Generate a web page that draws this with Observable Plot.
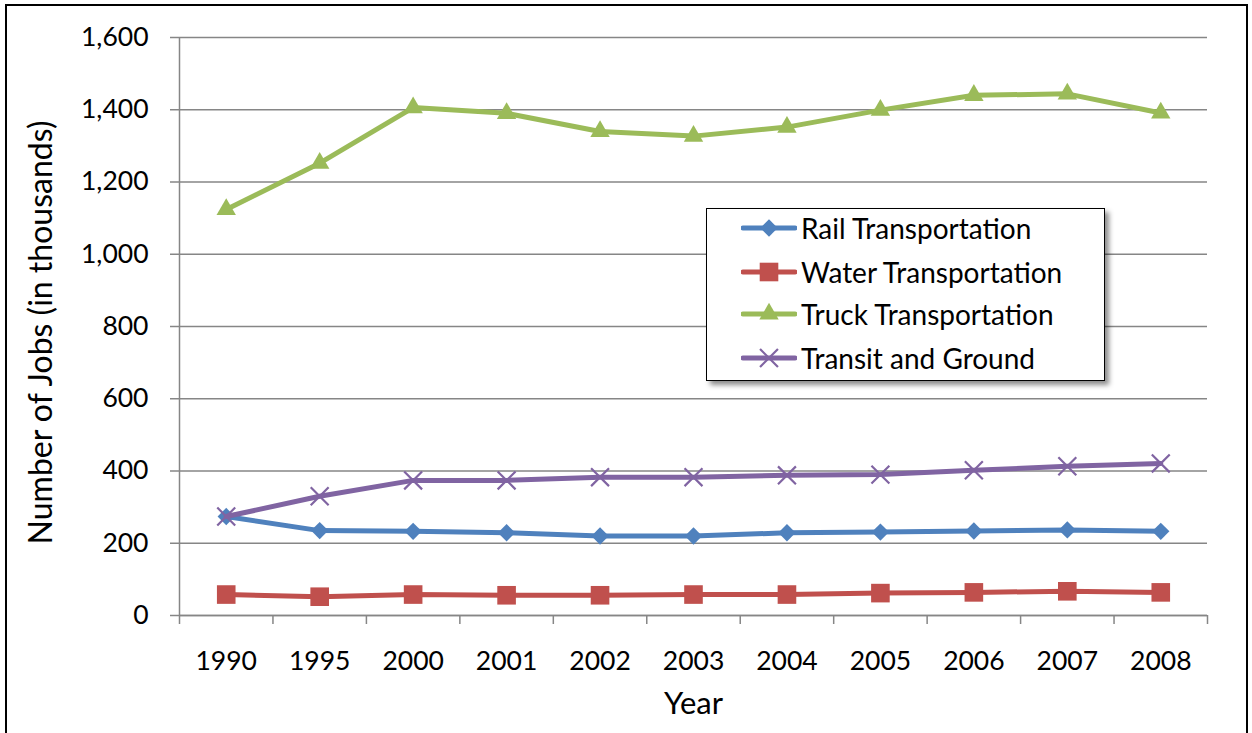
<!DOCTYPE html>
<html><head><meta charset="utf-8">
<script src="https://cdn.jsdelivr.net/npm/d3@7"></script>
<script src="https://cdn.jsdelivr.net/npm/@observablehq/plot@0.6"></script>
<style>
html,body{margin:0;padding:0;background:#fff;}
#wrap{position:relative;width:1252px;height:733px;overflow:hidden;font-family:Lato, "Open Sans", sans-serif;}
#frame{position:absolute;left:5px;top:4px;width:1243px;height:760px;border:2px solid #000;box-sizing:border-box;pointer-events:none}
#legend{position:absolute;left:706px;top:208px;width:399px;height:173px;border:1.5px solid #000;background:#fff;box-shadow:4px 4px 5px rgba(0,0,0,0.45);box-sizing:border-box;}
.row{position:absolute;left:34px;height:30px;display:flex;align-items:center;font-size:28px;color:#000;white-space:nowrap}
.row svg{margin-right:4px}
</style></head>
<body><div id="wrap"><div id="chart"></div><div id="legend"></div><div id="frame"></div></div>
<script>
const years = ["1990","1995","2000","2001","2002","2003","2004","2005","2006","2007","2008"];
const rail = [274,235,233,229,220,220,229,231,234,237,233];
const water = [58,52,58,56,56,58,58,62,64,67,64];
const truck = [1124,1252,1406,1390,1340,1327,1352,1399,1440,1444,1391];
const transit = [274,330,374,374,383,383,388,390,402,413,421];
const seriesNames = ["Rail Transportation","Water Transportation","Truck Transportation","Transit and Ground"];
const seriesColors = ["#4F81BD","#C0504D","#9BBB59","#8064A2"];
const yTicks = [0,200,400,600,800,1000,1200,1400,1600];

const seriesValues = [rail, water, truck, transit];
const symbols = [d3.symbolDiamond2, d3.symbolSquare, d3.symbolTriangle, d3.symbolTimes];
const symbolR = [7.8, 10.5, 7.2, 8.2];
const filled = [true, true, true, false];

const data = [];
seriesNames.forEach((s, k) => seriesValues[k].forEach((v, i) => data.push({series: s, k, i, x: i + 0.5, value: v})));

const gray = "#868686";
const marks = [
  Plot.gridY(yTicks, {stroke: gray, strokeOpacity: 1, strokeWidth: 1.5}),
  Plot.axisY({ticks: yTicks, tickSize: 9, tickFormat: () => "", stroke: gray, strokeWidth: 1.5, label: null}),
  Plot.axisY({ticks: yTicks, tickSize: 0, tickPadding: 31, fontSize: 26.5, fill: "#000", tickFormat: d3.format(","), label: null}),
  Plot.axisX({ticks: d3.range(years.length + 1), tickSize: 9, tickFormat: () => "", stroke: gray, strokeWidth: 1.5, label: null}),
  Plot.axisX({ticks: years.map((_, i) => i + 0.5), tickSize: 0, tickPadding: 36, fontSize: 26.5, fill: "#000", tickFormat: v => years[Math.floor(v)], label: null}),
  Plot.ruleX([0], {stroke: gray, strokeWidth: 1.5}),
  Plot.ruleY([0], {stroke: gray, strokeWidth: 1.5}),
  Plot.text(["Number of Jobs (in thousands)"], {frameAnchor: "left", dx: -138, dy: 6, rotate: -90, fontSize: 32, fill: "#000", textAnchor: "middle", lineAnchor: "middle"}),
  Plot.text(["Year"], {frameAnchor: "bottom", dy: 89, fontSize: 31, fill: "#000", textAnchor: "middle", lineAnchor: "middle"})
];
seriesNames.forEach((s, k) => {
  const d = data.filter(r => r.k === k);
  marks.push(Plot.line(d, {x: "x", y: "value", stroke: seriesColors[k], strokeWidth: 5, strokeLinejoin: "round"}));
  marks.push(Plot.dot(d, {x: "x", y: "value", symbol: () => symbols[k], r: symbolR[k],
    fill: filled[k] ? seriesColors[k] : "none", stroke: seriesColors[k], strokeWidth: filled[k] ? 0 : 2.2}));
});

const chart = Plot.plot({
  width: 1252, height: 733,
  marginLeft: 179, marginRight: 45, marginTop: 37, marginBottom: 118,
  style: {fontFamily: 'Lato, "Open Sans", sans-serif', background: "transparent", overflow: "visible"},
  x: {type: "linear", domain: [0, years.length], axis: null},
  y: {domain: [0, 1600], axis: null},
  symbol: {type: "identity"},
  marks
});
document.getElementById("chart").appendChild(chart);

// legend
const legend = d3.select("#legend");
const rowTops = [4, 48, 90, 134];
seriesNames.forEach((s, k) => {
  const row = legend.append("div").attr("class", "row").style("top", rowTops[k] + "px");
  const svg = row.append("svg").attr("width", 56).attr("height", 30);
  svg.append("line").attr("x1", 2).attr("x2", 54).attr("y1", 15).attr("y2", 15)
    .attr("stroke", seriesColors[k]).attr("stroke-width", 5).attr("stroke-linecap", "round");
  svg.append("path").attr("transform", "translate(28,15)")
    .attr("d", d3.symbol(symbols[k], Math.PI * symbolR[k] * symbolR[k])())
    .attr("fill", filled[k] ? seriesColors[k] : "none").attr("stroke", seriesColors[k]).attr("stroke-width", filled[k] ? 0 : 2.2);
  row.append("span").text(s);
});
</script>
</body></html>
